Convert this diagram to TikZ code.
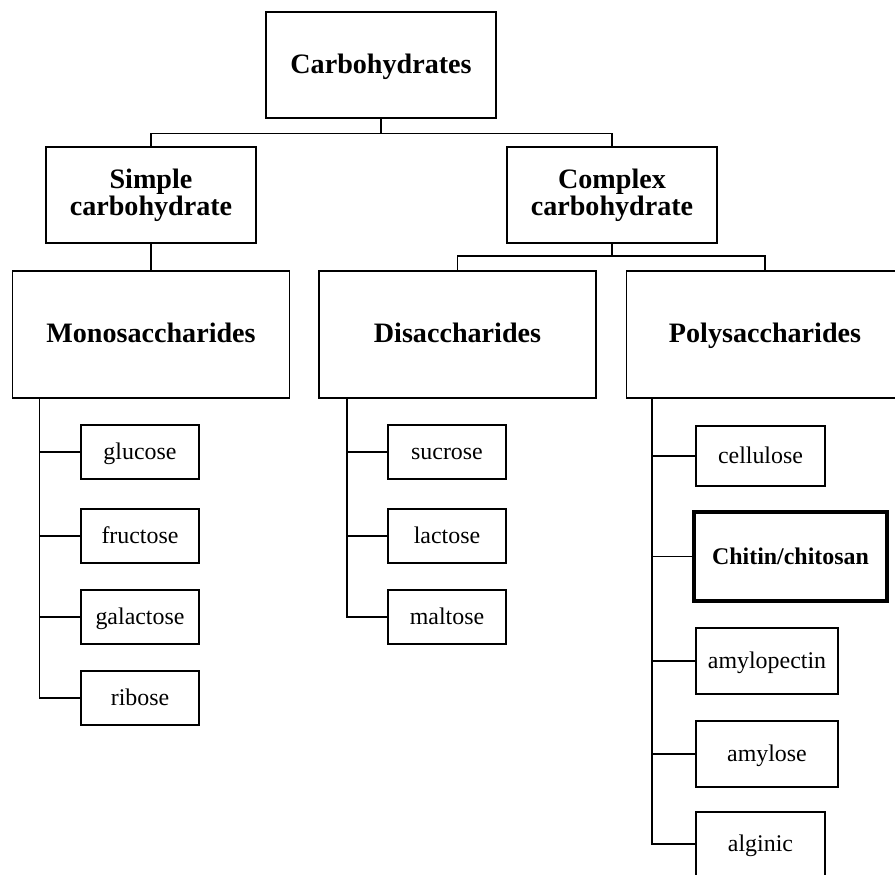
\documentclass[tikz,border=0pt]{standalone}
\usepackage{fontspec}
\setmainfont{Liberation Serif}
\usetikzlibrary{positioning}

\begin{document}
\begin{tikzpicture}[x=1cm,y=1cm]
\tikzset{
  topbox/.style={rectangle,draw=black,line width=2pt,inner sep=0pt,align=center,
    font=\fontsize{20}{19}\selectfont\bfseries},
  groupbox/.style={topbox,line width=1.4pt},
  bigline/.style={text height=16pt,text depth=4pt},
  smallline/.style={text height=14pt,text depth=3pt},
  itembox/.style={rectangle,draw=black,line width=1pt,inner sep=0pt,smallline,
    minimum height=1.35cm,font=\fontsize{17}{20}\selectfont},
  keybox/.style={itembox,line width=3pt,font=\fontsize{17}{20}\selectfont\bfseries},
  link/.style={draw=black,line width=1pt,line cap=rect,line join=miter}
}
\useasboundingbox (0,0) rectangle (22.375,-21.85);
\clip (0,0) rectangle (22.375,-21.85);
% top levels
\node[topbox,bigline,minimum width=5.75cm,minimum height=2.65cm] (carb) at (9.525,-1.625) {Carbohydrates};
\node[groupbox,minimum width=5.25cm,minimum height=2.4cm] (simple) at (3.775,-4.875) {Simple\\carbohydrate};
\node[groupbox,minimum width=5.25cm,minimum height=2.4cm] (complex) at (15.3,-4.875) {Complex\\carbohydrate};
\node[groupbox,bigline,minimum width=6.925cm,minimum height=3.175cm] (mono) at (3.775,-8.3625) {Monosaccharides};
\node[groupbox,bigline,minimum width=6.925cm,minimum height=3.175cm] (di) at (11.4375,-8.3625) {Disaccharides};
\node[groupbox,bigline,minimum width=6.925cm,minimum height=3.175cm] (poly) at (19.125,-8.3625) {Polysaccharides};
% monosaccharides
\node[itembox,minimum width=2.95cm] (glucose) at (3.5,-11.3) {glucose};
\node[itembox,minimum width=2.95cm] (fructose) at (3.5,-13.4) {fructose};
\node[itembox,minimum width=2.95cm] (galactose) at (3.5,-15.425) {galactose};
\node[itembox,minimum width=2.95cm] (ribose) at (3.5,-17.45) {ribose};
% disaccharides
\node[itembox,minimum width=2.95cm] (sucrose) at (11.175,-11.3) {sucrose};
\node[itembox,minimum width=2.95cm] (lactose) at (11.175,-13.4) {lactose};
\node[itembox,minimum width=2.95cm] (maltose) at (11.175,-15.425) {maltose};
% polysaccharides
\node[itembox,minimum width=3.225cm,minimum height=1.5cm] (cellulose) at (19.0125,-11.4) {cellulose};
\node[keybox,minimum width=4.825cm,minimum height=2.225cm] (chitin) at (19.7625,-13.9125) {Chitin/chitosan};
\node[itembox,minimum width=3.55cm,minimum height=1.65cm] (amylopectin) at (19.175,-16.525) {amylopectin};
\node[itembox,minimum width=3.55cm,minimum height=1.65cm] (amylose) at (19.175,-18.85) {amylose};
\node[itembox,minimum width=3.225cm,minimum height=1.6cm] (alginic) at (19.0125,-21.1) {alginic};
% tree links
\draw[link] (carb.south) -- ++(0,-0.35) coordinate (carbjoin);
\draw[link] (simple.north) |- (carbjoin) -| (complex.north);
\draw[link] (simple.south) -- (mono.north);
\draw[link] (complex.south) -- ++(0,-0.3) coordinate (complexjoin);
\draw[link] (di.north) |- (complexjoin) -| (poly.north);
% list trunks
\coordinate (monotrunk) at ([xshift=0.7cm]mono.south west);
\coordinate (ditrunk) at ([xshift=0.725cm]di.south west);
\coordinate (polytrunk) at ([xshift=0.66cm]poly.south west);
\foreach \sugar in {glucose,fructose,galactose,ribose}
  \draw[link] (monotrunk) |- (\sugar.west);
\foreach \sugar in {sucrose,lactose,maltose}
  \draw[link] (ditrunk) |- (\sugar.west);
\foreach \sugar in {cellulose,chitin,amylopectin,amylose,alginic}
  \draw[link] (polytrunk) |- (\sugar.west);
\end{tikzpicture}
\end{document}
